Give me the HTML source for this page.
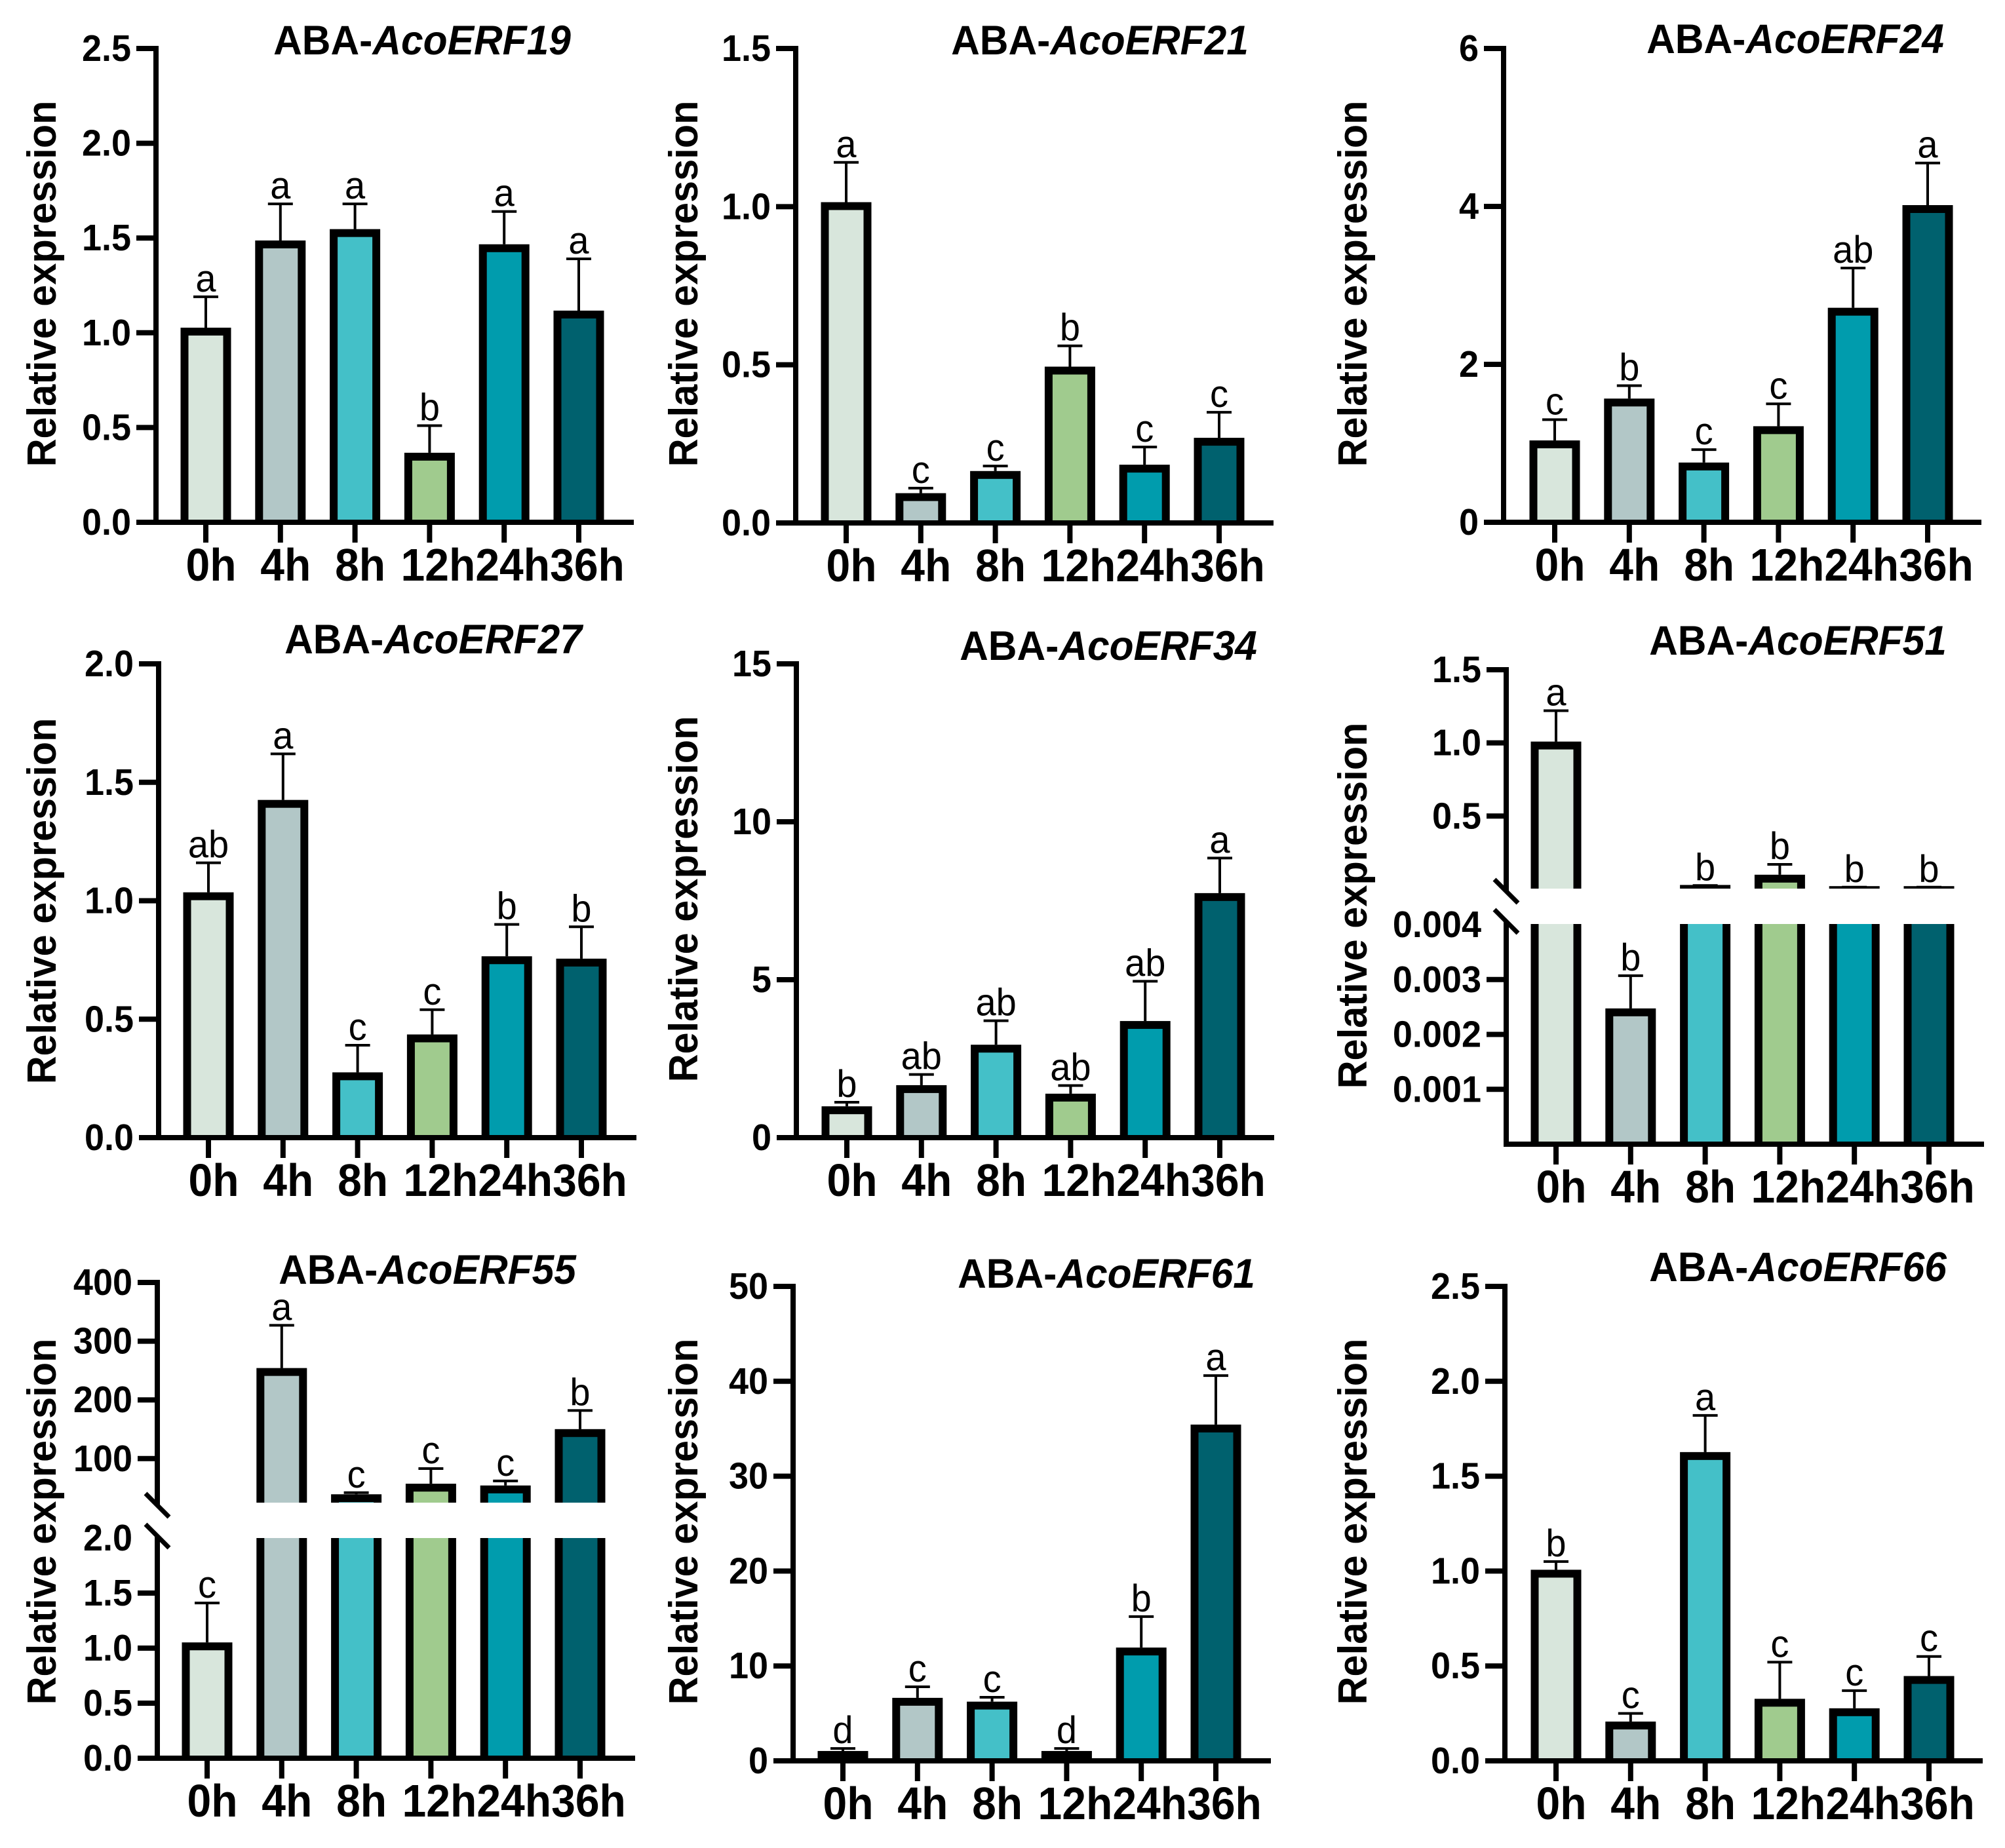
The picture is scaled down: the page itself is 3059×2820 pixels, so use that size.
<!DOCTYPE html>
<html>
<head>
<meta charset="utf-8">
<title>ABA AcoERF relative expression</title>
<style>
html,body{margin:0;padding:0;background:#fff;width:3059px;height:2820px;overflow:hidden}
svg{display:block}
text{font-family:"Liberation Sans",Arial,sans-serif;fill:#000}
</style>
</head>
<body>
<svg id="figure" xmlns="http://www.w3.org/2000/svg" width="3059" height="2820" viewBox="0 0 3059 2820"></svg>
<script>
const categories = ['0h','4h','8h','12h','24h','36h'];
const barColors = ['#d8e6dc','#b2c7c7','#44c0c8','#a0cb8e','#009cad','#00616e'];

const genes = ['AcoERF19','AcoERF21','AcoERF24','AcoERF27','AcoERF34','AcoERF51','AcoERF55','AcoERF61','AcoERF66'];

const valuesERF19 = [1.02,1.48,1.54,0.36,1.46,1.11];
const topsERF19   = [1.19,1.68,1.68,0.51,1.64,1.39];
const lettersERF19 = ['a','a','a','b','a','a'];
const ticksERF19 = ['0.0','0.5','1.0','1.5','2.0','2.5'];

const valuesERF21 = [1.01,0.09,0.16,0.49,0.18,0.265];
const topsERF21   = [1.14,0.11,0.18,0.56,0.24,0.35];
const lettersERF21 = ['a','c','c','b','c','c'];
const ticksERF21 = ['0.0','0.5','1.0','1.5'];

const valuesERF24 = [1.02,1.55,0.74,1.2,2.7,4.0];
const topsERF24   = [1.3,1.73,0.92,1.5,3.22,4.55];
const lettersERF24 = ['c','b','c','c','ab','a'];
const ticksERF24 = ['0','2','4','6'];

const valuesERF27 = [1.03,1.42,0.27,0.43,0.76,0.75];
const topsERF27   = [1.16,1.62,0.39,0.54,0.9,0.89];
const lettersERF27 = ['ab','a','c','c','b','b'];
const ticksERF27 = ['0.0','0.5','1.0','1.5','2.0'];

const valuesERF34 = [0.95,1.62,2.9,1.35,3.65,7.7];
const topsERF34   = [1.12,2.0,3.7,1.65,4.95,8.85];
const lettersERF34 = ['b','ab','ab','ab','ab','a'];
const ticksERF34 = ['0','5','10','15'];

const valuesERF51 = [1.0,0.00245,0.02,0.09,0.012,0.012];
const topsERF51   = [1.22,0.00307,0.025,0.17,0.014,0.014];
const lettersERF51 = ['a','b','b','b','b','b'];
const ticksERF51Lower = ['0.001','0.002','0.003','0.004'];
const ticksERF51Upper = ['0.5','1.0','1.5'];

const valuesERF55 = [1.04,252,37,55,52,148];
const topsERF55   = [1.41,327,42,83,62,182];
const lettersERF55 = ['c','a','c','c','c','b'];
const ticksERF55Lower = ['0.0','0.5','1.0','1.5','2.0'];
const ticksERF55Upper = ['100','200','300','400'];

const valuesERF61 = [0.9,6.5,6.1,0.9,11.8,35.3];
const topsERF61   = [1.3,7.8,6.7,1.3,15.2,40.6];
const lettersERF61 = ['d','c','c','d','b','a'];
const ticksERF61 = ['0','10','20','30','40','50'];

const valuesERF66 = [1.0,0.2,1.62,0.32,0.27,0.44];
const topsERF66   = [1.05,0.25,1.82,0.52,0.37,0.55];
const lettersERF66 = ['b','c','a','c','c','c'];
const ticksERF66 = ['0.0','0.5','1.0','1.5','2.0','2.5'];

const NS = 'http://www.w3.org/2000/svg';
const root = document.getElementById('figure');

function make(tag, parent, props) {
  const el = document.createElementNS(NS, tag);
  for (const k in props) el.setAttribute(k, props[k]);
  parent.appendChild(el);
  return el;
}
function linearAxis(d0, d1, r0, r1) {
  return v => r0 + (v - d0) * (r1 - r0) / (d1 - d0);
}
function labelText(parent, cx, baseY, str, size, weight, anchor, sy) {
  const t = make('text', parent, {
    transform: 'translate(' + cx + ' ' + baseY + ') scale(1 ' + sy + ')',
    'font-size': size, 'font-weight': weight, 'text-anchor': anchor
  });
  t.textContent = str;
  return t;
}

function drawPanel(cfg) {
  const g = make('g', root, {});
  
  
  const step = 113.8, barW = 65, sw = 12, lift = 2;
  const xOf = i => cfg.c0 + i * step;
  const right = cfg.ax + 729;

  // title
  const title = make('text', g, {
    transform: 'translate(' + cfg.tx + ' ' + (cfg.ty + 5) + ') scale(1 1.04)',
    'font-size': 60.5, 'font-weight': 'bold', 'text-anchor': 'middle'
  });
  
  
  const t1 = make('tspan', title, {}); t1.textContent = 'ABA-';
  const t2 = make('tspan', title, {'font-style': 'italic'}); t2.textContent = cfg.gene;

  // y title
  const yt = make('text', g, {
    transform: 'translate(' + (cfg.yx - 3) + ' ' + cfg.yy + ') rotate(-90) scale(1 1.05)',
    'font-size': 59.5, 'font-weight': 'bold', 'text-anchor': 'middle'
  });
  
  
  yt.textContent = 'Relative expression';

  cfg.segments.forEach((seg, si) => {
    const y = linearAxis(seg.lo, seg.hi, seg.bottom, seg.top);
    const clipId = 'clip-' + cfg.gene + '-' + si;
    const lower = seg.base;
    const barClip = make('clipPath', g, {id: clipId});
    make('rect', barClip, {x: cfg.ax, y: seg.clipTop, width: 900, height: seg.bottom - seg.clipTop + (lower ? 4 : 0)});

    cfg.values.forEach((v, i) => {
      if (v < seg.lo) return;
      const outerTop = y(v) - lift;
      const bar = make('rect', g, {
        x: xOf(i) - barW / 2,
        y: outerTop + sw / 2,
        width: barW,
        height: Math.max(0, seg.bottom + 40 - outerTop),
        fill: barColors[i], stroke: '#000', 'stroke-width': sw,
        'clip-path': 'url(#' + clipId + ')'
      });
      
      

      if (v > seg.hi) return;
      const top = y(cfg.tops[i]);
      const stem = make('line', g, {x1: xOf(i), x2: xOf(i), y1: outerTop, y2: top, stroke: '#000', 'stroke-width': 4});
      
      
      const cap = make('line', g, {x1: xOf(i) - 19, x2: xOf(i) + 19, y1: top, y2: top, stroke: '#000', 'stroke-width': 4});
      
      
      const lab = labelText(g, xOf(i), top - 8, cfg.letters[i], 56, 'normal', 'middle', 1.05);
      
      
    });

    // y axis segment
    const axisLine = make('line', g, {x1: cfg.ax, x2: cfg.ax, y1: seg.axisTop, y2: seg.axisBottom, stroke: '#000', 'stroke-width': 8});
    
    

    seg.ticks.forEach((label, ti) => {
      const ty = y(parseFloat(label));
      const hidden = cfg.brk && lower && ti === seg.ticks.length - 1;
      if (!hidden) {
        const tk = make('line', g, {x1: cfg.ax - 30, x2: cfg.ax, y1: ty, y2: ty, stroke: '#000', 'stroke-width': 8});
        
        
      }
      const tl = labelText(g, cfg.ax - 38, ty + 19, label, 54, 'bold', 'end', 1.04);
      
      
    });
  });

  // break marks
  if (cfg.brk) {
    const b = cfg.brk;
    [b.y1, b.y2].forEach(cy => {
      const m = make('line', g, {x1: cfg.ax - 18, y1: cy - 18, x2: cfg.ax + 18, y2: cy + 18, stroke: '#000', 'stroke-width': 7});
      
      
    });
  }

  // x axis
  const xa = make('line', g, {x1: cfg.ax - (cfg.tickAtBase ? 30 : 4), x2: right, y1: cfg.base, y2: cfg.base, stroke: '#000', 'stroke-width': 8});
  
  

  categories.forEach((c, i) => {
    const tk = make('line', g, {x1: xOf(i), x2: xOf(i), y1: cfg.base, y2: cfg.base + 31, stroke: '#000', 'stroke-width': 8});
    
    
    const tl = labelText(g, xOf(i) + (c.length > 2 ? 13 : 8), cfg.base + 89, c, 66, 'bold', 'middle', 1.06);
    
    
  });
}

function single(lo, hi, top, base, ticks) {
  return [{lo: lo, hi: hi, top: top, bottom: base, clipTop: top - 200, base: true, axisTop: top - 4, axisBottom: base + 4, ticks: ticks}];
}

const panels = [
  {gene: genes[0], values: valuesERF19, tops: topsERF19, letters: lettersERF19, ax: 238, c0: 314, base: 797, tx: 644, ty: 78, yx: 88, yy: 433, tickAtBase: true, segments: single(0, 2.5, 74, 797, ticksERF19)},
  {gene: genes[1], values: valuesERF21, tops: topsERF21, letters: lettersERF21, ax: 1214, c0: 1291, base: 798, tx: 1678, ty: 78, yx: 1067, yy: 433, tickAtBase: true, segments: single(0, 1.5, 74, 798, ticksERF21)},
  {gene: genes[2], values: valuesERF24, tops: topsERF24, letters: lettersERF24, ax: 2294, c0: 2372, base: 797, tx: 2739, ty: 76, yx: 2088, yy: 433, tickAtBase: true, segments: single(0, 6, 74, 797, ticksERF24)},
  {gene: genes[3], values: valuesERF27, tops: topsERF27, letters: lettersERF27, ax: 242, c0: 318, base: 1736, tx: 661, ty: 992, yx: 88, yy: 1375, tickAtBase: true, segments: single(0, 2, 1013, 1736, ticksERF27)},
  {gene: genes[4], values: valuesERF34, tops: topsERF34, letters: lettersERF34, ax: 1215, c0: 1292, base: 1736, tx: 1691, ty: 1002, yx: 1067, yy: 1372, tickAtBase: true, segments: single(0, 15, 1013, 1736, ticksERF34)},
  {gene: genes[5], values: valuesERF51, tops: topsERF51, letters: lettersERF51, ax: 2298, c0: 2374, base: 1746, tx: 2743, ty: 994, yx: 2088, yy: 1382, tickAtBase: false, brk: {y1: 1360, y2: 1406},
    segments: [
      {lo: 0.004, hi: 1.5, top: 1022, bottom: 1356, clipTop: 900, base: false, axisTop: 1018, axisBottom: 1360, ticks: ticksERF51Upper},
      {lo: 0, hi: 0.004, top: 1411, bottom: 1746, clipTop: 1410, base: true, axisTop: 1406, axisBottom: 1750, ticks: ticksERF51Lower}
    ]},
  {gene: genes[6], values: valuesERF55, tops: topsERF55, letters: lettersERF55, ax: 240, c0: 316, base: 2683, tx: 652, ty: 1954, yx: 88, yy: 2322, tickAtBase: true, brk: {y1: 2297, y2: 2344},
    segments: [
      {lo: 25, hi: 400, top: 1957, bottom: 2293, clipTop: 1800, base: false, axisTop: 1953, axisBottom: 2297, ticks: ticksERF55Upper},
      {lo: 0, hi: 2, top: 2347, bottom: 2683, clipTop: 2347, base: true, axisTop: 2344, axisBottom: 2687, ticks: ticksERF55Lower}
    ]},
  {gene: genes[7], values: valuesERF61, tops: topsERF61, letters: lettersERF61, ax: 1210, c0: 1286, base: 2687, tx: 1688, ty: 1960, yx: 1067, yy: 2322, tickAtBase: true, segments: single(0, 50, 1963, 2687, ticksERF61)},
  {gene: genes[8], values: valuesERF66, tops: topsERF66, letters: lettersERF66, ax: 2296, c0: 2374, base: 2687, tx: 2743, ty: 1950, yx: 2088, yy: 2322, tickAtBase: true, segments: single(0, 2.5, 1963, 2687, ticksERF66)}
];

panels.forEach(drawPanel);
</script>
</body>
</html>
